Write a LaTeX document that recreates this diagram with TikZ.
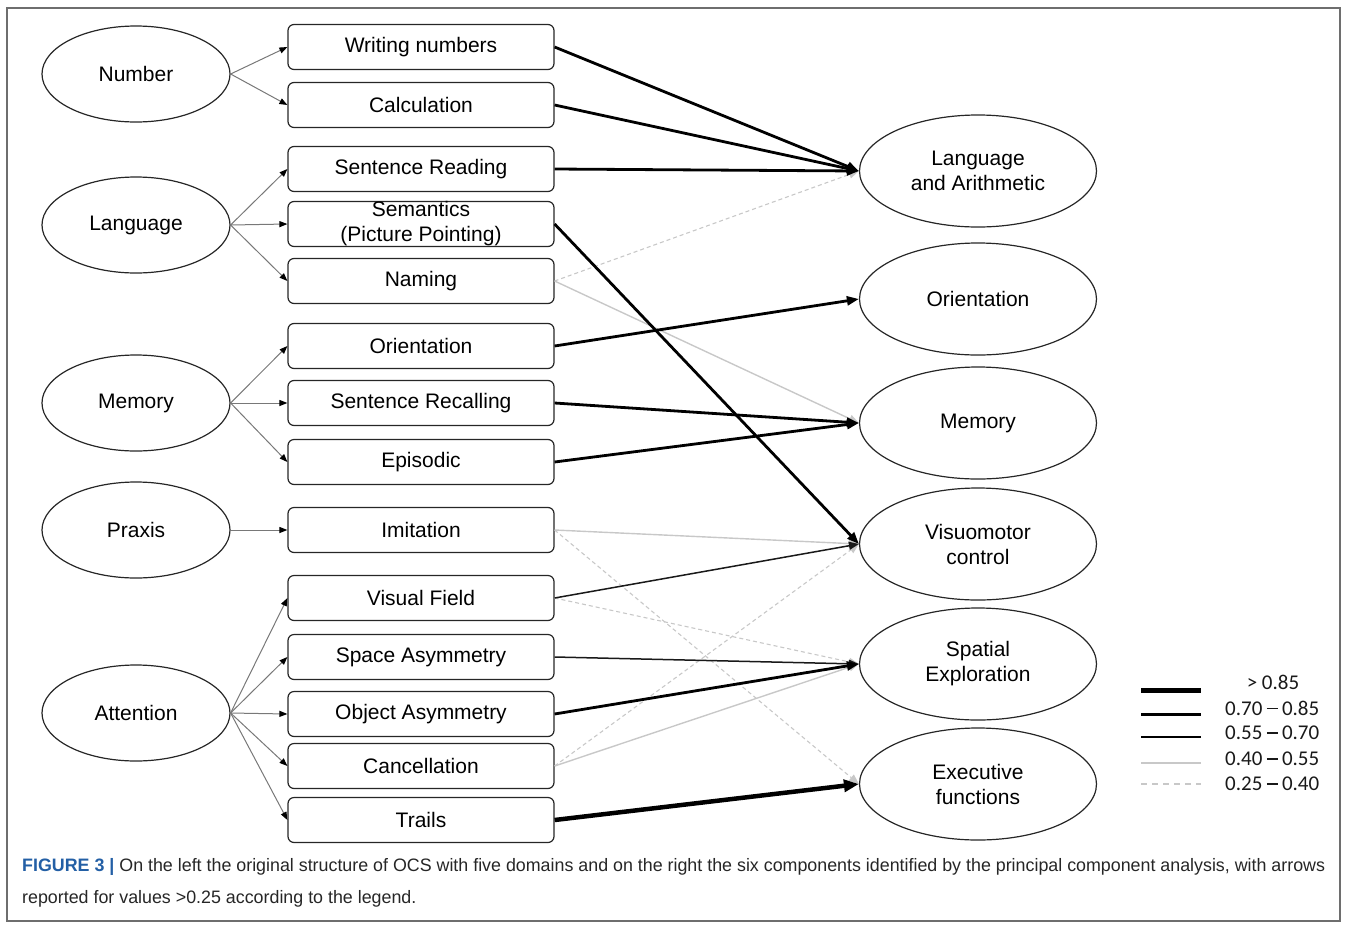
\documentclass[tikz,border=0pt]{standalone}
\usepackage{fontspec}
\usepackage{graphicx}
\setmainfont{Liberation Sans}
\newfontfamily\legfont{Carlito}
\usetikzlibrary{arrows.meta,shapes.geometric}
\definecolor{capblue}{RGB}{35,95,165}
\definecolor{lgray}{RGB}{200,200,200}
\definecolor{cgray}{RGB}{120,120,120}
\definecolor{framegray}{RGB}{110,110,110}
\newsavebox\capA
\newsavebox\capB
\newcommand\legdash{\hspace{4.5pt}\rule[5.8pt]{10.6pt}{1.5pt}\hspace{4.5pt}}
\begin{document}
\savebox\capA{\fontsize{18}{22}\selectfont\color{black!85}\textbf{\color{capblue}FIGURE 3 |} On the left the original structure of OCS with five domains and on the right the six components identified by the principal component analysis, with arrows}%
\savebox\capB{\fontsize{18}{22}\selectfont\color{black!85}reported for values >0.25 according to the legend.}%
\begin{tikzpicture}[x=1pt,y=-1pt,
  fs/.style={font=\fontsize{21}{25}\selectfont},
  dom/.style={ellipse, draw=black!85, line width=1.2pt, minimum width=188pt, minimum height=96pt, inner sep=0pt, fs},
  comp/.style={ellipse, draw=black!85, line width=1.2pt, minimum width=237pt, minimum height=112pt, inner sep=0pt, align=center, fs},
  testbox/.style={rectangle, rounded corners=6pt, draw=black!85, line width=1.2pt, minimum width=266pt, minimum height=45pt, inner sep=0pt, align=center, fs},
  feed/.style={draw=cgray, line width=1pt, -{Triangle[length=8pt,width=6pt,color=black]}},
  vhigh/.style={line width=4.5pt, black, -{Triangle[length=15pt,width=12pt]}},
  high/.style={line width=2.8pt, black, -{Triangle[length=12pt,width=9pt]}},
  mid/.style={line width=1.5pt, black!90, -{Triangle[length=10pt,width=8pt]}},
  low/.style={line width=1.4pt, lgray, -{Triangle[length=10pt,width=8pt]}},
  vlow/.style={line width=1.1pt, lgray, dash pattern=on 4pt off 3pt, -{Triangle[length=10pt,width=8pt]}},
  leg/.style={font=\legfont\fontsize{21}{25}\selectfont, inner sep=0pt, text=black!90},
  capt/.style={inner sep=0pt, anchor=base west}
]
\useasboundingbox (0,0) rectangle (1358,930);
\draw[framegray, line width=1.2pt] (7,8) rectangle (1340,921);

% domains
\node[dom] (number) at (136,74) {Number};
\node[dom] (language) at (136,225) {Language};
\node[dom] (memory) at (136,403) {Memory};
\node[dom] (praxis) at (136,530) {Praxis};
\node[dom] (attention) at (136,713) {Attention};

% tests
\node[testbox] (wn) at (421,47) {Writing numbers};
\node[testbox] (calc) at (421,105) {Calculation};
\node[testbox] (sr) at (421,169) {Sentence Reading};
\node[testbox] (sem) at (421,224) {Semantics\\(Picture Pointing)};
\node[testbox] (nam) at (421,281) {Naming};
\node[testbox] (ori) at (421,346) {Orientation};
\node[testbox] (srec) at (421,403) {Sentence Recalling};
\node[testbox] (epi) at (421,462) {Episodic};
\node[testbox] (imi) at (421,530) {Imitation};
\node[testbox] (vf) at (421,598) {Visual Field};
\node[testbox] (sa) at (421,657) {Space Asymmetry};
\node[testbox] (oa) at (421,714) {Object Asymmetry};
\node[testbox] (can) at (421,766) {Cancellation};
\node[testbox] (tr) at (421,820) {Trails};

% components
\node[comp] (cLA) at (978,171) {Language\\and Arithmetic};
\node[comp] (cOr) at (978,299) {Orientation};
\node[comp] (cMem) at (978,423) {Memory};
\node[comp] (cVis) at (978,544) {Visuomotor\\control};
\node[comp] (cSp) at (978,664) {Spatial\\Exploration};
\node[comp] (cEx) at (978,784) {Executive\\functions};

% domain -> test
\draw[feed] (number.east) -- (wn.west);
\draw[feed] (number.east) -- (calc.west);
\draw[feed] (language.east) -- (sr.west);
\draw[feed] (language.east) -- (sem.west);
\draw[feed] (language.east) -- (nam.west);
\draw[feed] (memory.east) -- (ori.west);
\draw[feed] (memory.east) -- (srec.west);
\draw[feed] (memory.east) -- (epi.west);
\draw[feed] (praxis.east) -- (imi.west);
\draw[feed] (attention.east) -- (vf.west);
\draw[feed] (attention.east) -- (sa.west);
\draw[feed] (attention.east) -- (oa.west);
\draw[feed] (attention.east) -- (can.west);
\draw[feed] (attention.east) -- (tr.west);

% loadings: light first
\draw[vlow] (nam.east) -- (cLA.west);
\draw[low] (nam.east) -- (cMem.west);
\draw[low] (imi.east) -- (cVis.west);
\draw[vlow] (imi.east) -- (cEx.west);
\draw[vlow] (vf.east) -- (cSp.west);
\draw[vlow] (can.east) -- (cVis.west);
\draw[low] (can.east) -- (cSp.west);
% dark
\draw[high] (wn.east) -- (cLA.west);
\draw[high] (calc.east) -- (cLA.west);
\draw[high] (sr.east) -- (cLA.west);
\draw[high] (sem.east) -- (cVis.west);
\draw[high] (ori.east) -- (cOr.west);
\draw[high] (srec.east) -- (cMem.west);
\draw[high] (epi.east) -- (cMem.west);
\draw[mid] (vf.east) -- (cVis.west);
\draw[mid] (sa.east) -- (cSp.west);
\draw[high] (oa.east) -- (cSp.west);
\draw[vhigh] (tr.east) -- (cEx.west);

% legend
\draw[line width=5pt, black] (1141,690) -- (1201,690);
\draw[line width=3pt, black] (1141,714) -- (1201,714);
\draw[line width=1.4pt, black] (1141,737) -- (1201,737);
\draw[line width=1.4pt, lgray] (1141,763) -- (1201,763);
\draw[line width=1.2pt, lgray, dash pattern=on 6pt off 5pt] (1141,784) -- (1201,784);
\node[leg] (lg1) at (1273,682) {> 0.85};
\node[leg, anchor=west] (lg2) at (1225,708) {0.70\legdash 0.85};
\node[leg, anchor=west] (lg3) at (1225,733) {0.55\legdash 0.70};
\node[leg, anchor=west] (lg4) at (1225,759) {0.40\legdash 0.55};
\node[leg, anchor=west] (lg5) at (1225,784) {0.25\legdash 0.40};

% caption
\pgfmathsetmacro\capf{1303/(\the\wd\capA)}
\node[capt] (cap1) at (22,871) {\scalebox{\capf}[1]{\usebox\capA}};
\node[capt] (cap2) at (22,903) {\scalebox{\capf}[1]{\usebox\capB}};
\end{tikzpicture}
\end{document}
